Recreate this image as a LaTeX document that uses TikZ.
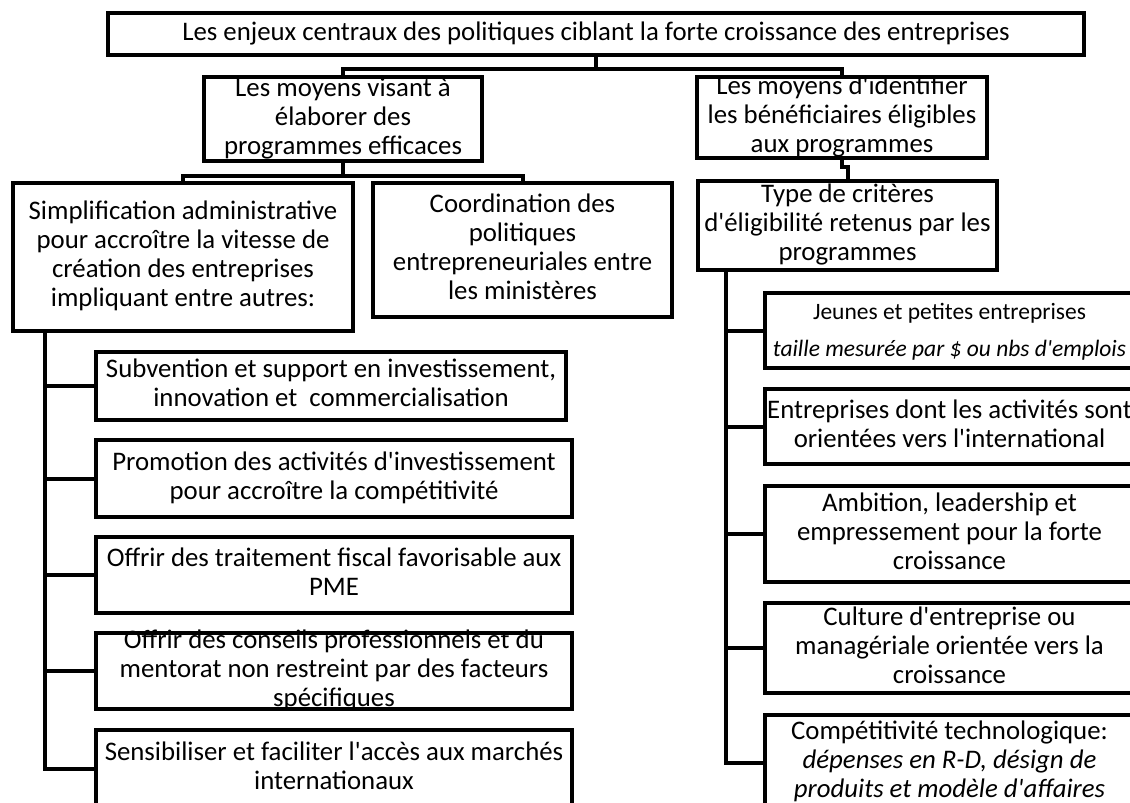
\documentclass[tikz,border=0pt]{standalone}
\usepackage{fontspec}
\setmainfont{Carlito}[Ligatures=TeXOff]
\usepackage{tikz}
\usetikzlibrary{positioning,calc}

% text of a box, centred on the node, allowed to overflow its frame
\newcommand{\boxtext}[1]{\smash{\raisebox{-.25em}{\begin{tabular}{@{}c@{}}#1\end{tabular}}}}

\tikzset{
  box/.style={draw, line width=4pt, inner sep=0pt, font=\fontsize{26.8}{29}\selectfont},
  link/.style={line width=4pt},
}

\begin{document}
\begin{tikzpicture}[x=1pt,y=-1pt]
    \useasboundingbox (0,0) rectangle (1130,803);
    \clip (0,0) rectangle (1130,803);
    % coordinates in pixels of the 1130x803 page, y downwards
    \node[box, minimum width=976, minimum height=42] (top) at (596,34)
      {\boxtext{Les enjeux centraux des politiques ciblant la forte croissance des entreprises}};
    \node[box, minimum width=278, minimum height=84] (mid1) at (343,119)
      {\boxtext{Les moyens visant à\\élaborer des\\programmes efficaces}};
    \node[box, minimum width=290, minimum height=81] (mid2) at (842,117.5)
      {\boxtext{Les moyens d'identifier\\les bénéficiaires éligibles\\aux programmes}};
    \node[box, minimum width=340, minimum height=148] (simp) at (183,257)
      {\boxtext{Simplification administrative\\pour accroître la vitesse de\\création des entreprises\\impliquant entre autres:}};
    \node[box, minimum width=299, minimum height=134] (coord) at (522.5,250)
      {\boxtext{Coordination des\\politiques\\entrepreneuriales entre\\les ministères}};
    \node[box, minimum width=299, minimum height=89] (type) at (847.5,225.5)
      {\boxtext{Type de critères\\d'éligibilité retenus par les\\programmes}};
    % left column
    \node[box, minimum width=470, minimum height=68] (L1) at (331,386)
      {\boxtext{Subvention et support en investissement,\\innovation et~ commercialisation}};
    \node[box, minimum width=476, minimum height=77] (L2) at (334,478.5)
      {\boxtext{Promotion des activités d'investissement\\pour accroître la compétitivité}};
    \node[box, minimum width=476, minimum height=76] (L3) at (334,575)
      {\boxtext{Offrir des traitement fiscal favorisable aux\\PME}};
    \node[box, minimum width=476, minimum height=76] (L4) at (334,671)
      {\boxtext{Offrir des conseils professionnels et du\\mentorat non restreint par des facteurs\\spécifiques}};
    \node[box, minimum width=476, minimum height=78] (L5) at (334,769)
      {\boxtext{Sensibiliser et faciliter l'accès aux marchés\\internationaux}};
    % right column
    \node[box, minimum width=369, minimum height=75, font=\fontsize{23.5}{37}\selectfont] (R1) at (949.5,330.5)
      {\boxtext{Jeunes et petites entreprises\\\textit{taille mesurée par \$ ou nbs d'emplois}}};
    \node[box, minimum width=369, minimum height=75] (R2) at (949.5,426.5)
      {\boxtext{Entreprises dont les activités sont\\orientées vers l'international}};
    \node[box, minimum width=369, minimum height=96] (R3) at (949.5,534)
      {\boxtext{Ambition, leadership et\\empressement pour la forte\\croissance}};
    \node[box, minimum width=369, minimum height=90] (R4) at (949.5,648)
      {\boxtext{Culture d'entreprise ou\\managériale orientée vers la\\croissance}};
    \node[box, minimum width=369, minimum height=95] (R5) at (949.5,762.5)
      {\boxtext{Compétitivité technologique:\\\textit{dépenses en R-D, désign de}\\\textit{produits et modèle d'affaires}}};
    % connectors
    \draw[link] (top.south) -- ++(0,12) -| (mid1.north);
    \draw[link] (top.south) -- ++(0,12) -| (mid2.north);
    \draw[link] (mid1.south) -- ++(0,13) -| (simp.north);
    \draw[link] (mid1.south) -- ++(0,13) -| (coord.north);
    \draw[link] (mid2.south) -- ++(0,7) -| (type.north);
    \foreach \n in {L1,L2,L3,L4,L5} {
      \draw[link] ($(simp.south west)+(34,0)$) |- (\n.west);
    }
    \foreach \n in {R1,R2,R3,R4,R5} {
      \draw[link] ($(type.south west)+(30,0)$) |- (\n.west);
    }
  \end{tikzpicture}
\end{document}
